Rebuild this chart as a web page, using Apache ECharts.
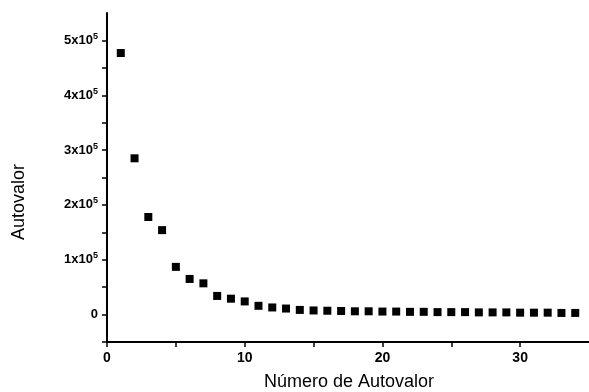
<!DOCTYPE html>
<html>
<head>
<meta charset="utf-8">
<script src="https://cdn.jsdelivr.net/npm/echarts@6/dist/echarts.min.js"></script>
<style>
  html, body { margin: 0; padding: 0; background: #fff; }
  #chart { width: 589px; height: 392px; }
</style>
</head>
<body>
<div id="chart"></div>
<script>
// eigenvalue index and value
const indices = [1, 2, 3, 4, 5, 6, 7, 8, 9, 10, 11, 12, 13, 14, 15, 16, 17,
  18, 19, 20, 21, 22, 23, 24, 25, 26, 27, 28, 29, 30, 31, 32, 33, 34];
const eigenvalues = [477000, 285000, 178000, 154000, 87000, 65000, 57000, 34000,
  29000, 24000, 16000, 13000, 11000, 8500, 7500, 7000, 6500, 6000, 6000, 5500,
  5500, 5000, 5000, 4500, 4500, 4500, 4000, 4000, 4000, 3500, 3500, 3500, 3000, 3000];
const xTickLabels = [0, 10, 20, 30];
const yTickLabels = [0, 100000, 200000, 300000, 400000, 500000];

const chart = echarts.init(document.getElementById("chart"));

const points = indices.map((x, i) => [x, eigenvalues[i]]);

chart.setOption({
  animation: false,
  backgroundColor: "#fff",
  grid: { left: 107, right: -3, top: 13, bottom: 50 },
  xAxis: {
    type: "value",
    min: 0,
    max: 35,
    interval: 5,
    axisLine: { onZero: false, lineStyle: { color: "#000", width: 2 } },
    axisTick: { lineStyle: { color: "#000", width: 1.5 }, length: 5 },
    axisLabel: {
      color: "#000",
      fontFamily: "Liberation Sans",
      fontWeight: "bold",
      fontSize: 14,
      margin: 9,
      showMaxLabel: false,
      formatter: function (v) {
        return xTickLabels.indexOf(v) >= 0 ? String(v) : "";
      },
    },
    splitLine: { show: false },
  },
  yAxis: {
    type: "value",
    min: -50000,
    max: 550000,
    interval: 50000,
    axisLine: { show: true, lineStyle: { color: "#000", width: 2 } },
    axisTick: { show: true, lineStyle: { color: "#000", width: 1.5 }, length: 5 },
    axisLabel: {
      color: "#000",
      fontFamily: "Liberation Sans",
      fontWeight: "bold",
      fontSize: 13,
      margin: 9,
      showMaxLabel: false,
      formatter: function (v) {
        if (yTickLabels.indexOf(v) < 0) return "";
        if (v === 0) return "{b|0}";
        return "{b|" + v / 100000 + "x10}{s|5}";
      },
      rich: {
        b: { fontFamily: "Liberation Sans", fontWeight: "bold", fontSize: 13, color: "#000" },
        s: { fontFamily: "Liberation Sans", fontWeight: "bold", fontSize: 9, color: "#000", verticalAlign: "bottom", padding: [0, 0, 8, 0] },
      },
    },
    splitLine: { show: false },
  },
  graphic: [
    {
      type: "text",
      x: 349,
      y: 382,
      style: {
        text: "Número de Autovalor",
        font: "18px 'Liberation Sans'",
        fill: "#000",
        textAlign: "center",
        textVerticalAlign: "middle",
      },
    },
    {
      type: "text",
      x: 19,
      y: 202,
      rotation: Math.PI / 2,
      style: {
        text: "Autovalor",
        font: "18px 'Liberation Sans'",
        fill: "#000",
        textAlign: "center",
        textVerticalAlign: "middle",
      },
    },
  ],
  series: [
    {
      type: "scatter",
      data: points,
      symbol: "rect",
      symbolSize: 8,
      itemStyle: { color: "#000", opacity: 1 },
    },
  ],
});
</script>
</body>
</html>
